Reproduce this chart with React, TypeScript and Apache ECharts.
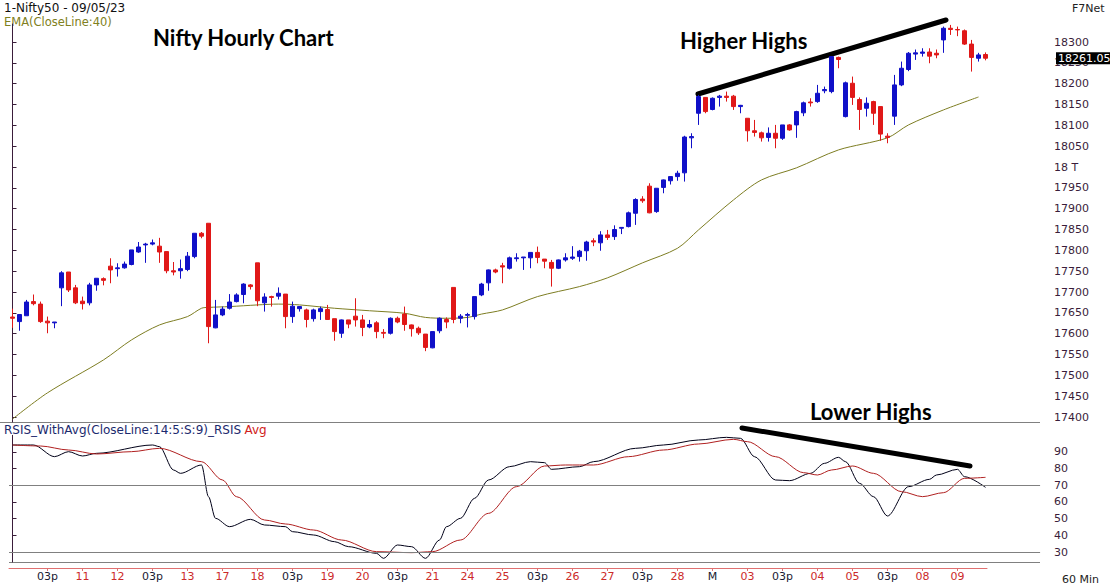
import React, { useEffect, useRef } from 'react';
import * as echarts from 'echarts';

// ---- Data ----
const opens = [17640,17629,17643,17677,17671,17630,17626, 17710,17748,17710,17678,17674,17717,17732, 17762,17756,17758,17766,17796,17813,17815, 17810,17797,17751,17751,17754,17785,17841, 17865,17614,17645,17661,17677,17694,17717, 17770,17674,17689,17690,17695,17641,17660, 17657,17636,17653,17658,17636,17601,17633, 17642,17633,17616,17626,17603,17601,17637, 17647,17621,17613,17599,17566,17607,17634, 17711,17637,17644,17641,17693,17722,17753, 17763,17757,17780,17782,17782,17795,17779, 17771,17757,17777,17781,17785,17799,17823, 17818,17837,17833,17853,17857,17889,17923, 17954,17893,17951,17967,17977,17986,18070, 18129,18167,18138,18167,18170,18170,18145, 18117,18087,18082,18071,18081,18069,18101, 18101,18130,18156,18157,18183,18181,18263, 18121,18201,18162,18141,18157,18145,18074, 18122,18197,18234,18271,18273,18276,18273, 18305,18333,18330,18327,18295,18261,18270];
const highs = [17660,17646,17681,17694,17677,17641,17628, 17750,17748,17717,17689,17722,17733,17735, 17781,17769,17773,17801,17820,17818,17826, 17830,17797,17772,17778,17796,17841,17844, 17865,17681,17665,17695,17697,17721,17719, 17770,17697,17691,17711,17695,17677,17666, 17660,17660,17665,17669,17636,17634,17633, 17685,17645,17633,17630,17611,17639,17641, 17665,17622,17617,17599,17605,17639,17639, 17711,17647,17650,17689,17722,17754,17756, 17770,17785,17793,17784,17795,17809,17779, 17777,17778,17793,17810,17801,17823,17829, 17846,17849,17860,17855,17893,17925,17930, 17961,17949,17970,17978,17991,18075,18081, 18173,18167,18167,18173,18181,18173,18149, 18117,18113,18085,18095,18101,18101,18103, 18135,18157,18165,18197,18193,18265,18265, 18205,18217,18167,18167,18159,18145,18081, 18221,18253,18276,18282,18285,18285,18282, 18337,18341,18337,18330,18305,18274,18275];
const lows = [17614,17607,17643,17668,17626,17601,17613, 17666,17700,17671,17658,17668,17703,17716, 17721,17737,17756,17764,17794,17770,17812, 17770,17745,17740,17732,17750,17781,17829, 17577,17613,17642,17658,17675,17673,17706, 17666,17653,17665,17682,17613,17626,17653, 17615,17629,17633,17633,17583,17590,17613, 17617,17594,17613,17589,17589,17598,17625, 17607,17593,17597,17558,17565,17601,17613, 17625,17625,17615,17634,17690,17703,17745, 17721,17754,17773,17753,17757,17769,17757, 17713,17755,17773,17777,17773,17775,17810, 17799,17825,17825,17839,17855,17861,17914, 17889,17890,17937,17958,17967,17965,18045, 18101,18129,18136,18145,18157,18137,18129, 18061,18073,18061,18061,18045,18065,18087, 18070,18122,18145,18154,18177,18177,18237, 18119,18149,18089,18121,18101,18063,18057, 18101,18194,18230,18257,18265,18249,18261, 18274,18317,18314,18293,18229,18253,18256];
const closes = [17637,17646,17676,17672,17629,17626,17628, 17746,17705,17674,17672,17717,17733,17728, 17753,17758,17767,17801,17808,17815,17818, 17796,17751,17748,17756,17786,17841,17834, 17617,17645,17659,17676,17693,17719,17713, 17679,17688,17687,17697,17641,17666,17665, 17634,17657,17660,17634,17605,17633,17623, 17633,17615,17622,17605,17601,17637,17628, 17622,17612,17602,17567,17605,17637,17628, 17634,17642,17646,17689,17719,17753,17748, 17760,17782,17782,17784,17795,17783,17774, 17757,17777,17782,17784,17798,17820,17820, 17837,17831,17850,17855,17890,17922,17919, 17890,17949,17969,17977,17985,18072,18073, 18169,18133,18165,18170,18167,18145,18148, 18087,18083,18070,18081,18069,18101,18089, 18133,18154,18154,18177,18186,18265,18258, 18202,18167,18138,18153,18129,18079,18071, 18197,18237,18273,18274,18276,18266,18269, 18333,18330,18329,18295,18263,18269,18261.05];

// EMA(40) line, [candle index, value]
const emaPoints = [[0,17395],[5,17458],[13,17537],[17,17585],[21,17621],[25,17641],[27,17661],[28,17663],[31,17665],[35,17669],[38,17671],[41,17669],[46,17661],[51,17655],[56,17649],[59,17639],[62,17637],[65,17639],[67,17647],[70,17657],[75,17689],[81,17713],[85,17734],[90,17770],[95,17805],[98,17849],[103,17921],[107,17969],[112,17998],[118,18041],[125,18070],[128,18101],[133,18137],[138,18168]];

// RSIS line and its average, [candle index, value]
const rsiPoints = [[0,94.2],[3,94.2],[6,87.2],[8,90.2],[10,87.6],[12,89.2],[20,94.2],[21,93.2],[23,79.2],[24,77.2],[27,82.2],[28,63.2],[29,50.2],[31,45.2],[34,49.6],[36,46.2],[39,45.2],[40,42.2],[43,40.2],[46,36.2],[48,33.2],[52,29.2],[53,26.2],[55,34.2],[57,33.2],[59,26.2],[61,37.2],[62,45.2],[64,50.2],[66,62.2],[68,73.2],[71,81.2],[74,84.2],[76,83.6],[77,79.6],[81,81.2],[83,84.2],[89,92.2],[93,94.2],[98,97.2],[102,98.8],[104,98.2],[106,87.2],[109,73.2],[111,72.8],[114,77.2],[116,83.2],[118,86.8],[119,84.2],[121,71.2],[123,63.2],[125,51.6],[128,69.2],[131,73.6],[132,76.2],[135,79.6],[136,75.2],[139,68.8]];
const rsiAvgPoints = [[0,94.2],[4,93.6],[8,91.2],[12,88.8],[17,90.2],[21,92.2],[27,84.2],[30,73.2],[32,63.2],[36,49.2],[39,46.8],[43,43.2],[47,37.2],[52,30.2],[57,29.6],[60,30.2],[64,37.2],[68,53.2],[72,69.2],[76,81.6],[79,82.2],[83,82.2],[88,87.2],[93,91.2],[98,94.8],[103,97.6],[105,96.2],[109,87.2],[113,77.6],[115,76.2],[117,79.2],[120,81.6],[123,77.2],[127,66.2],[130,63.2],[133,65.6],[136,74.2],[139,74.8]];

const xLabelIdx = [5,10,15,20,25,30,35,40,45,50,55,60,65,70,75,80,85,90,95,100,105,110,115,120,125,130,135];
const xLabels = ['03p','11','12','03p','13','17','18','03p','19','20','03p','21','24','25','03p','26','27','03p','28','M','03','03p','04','05','03p','08','09'];
const priceTicks = [17400,17450,17500,17550,17600,17650,17700,17750,17800,17850,17900,17950,18000,18050,18100,18150,18200,18250,18300];
const rsiTicks = [30,40,50,60,70,80,90];
const rsiLevels = [70, 30];
const lastPrice = 18261.05;

const FONT = 'DejaVu Sans, Verdana, sans-serif';
const AXIS_COLOR = '#3a1d3a';
const UP = '#1010c8';
const DOWN = '#e01818';
const BOLD = 'bold 22px Lato, sans-serif';

export default function App() {
  const ref = useRef<HTMLDivElement>(null);
  useEffect(() => {
    const chart = echarts.init(ref.current!, undefined, { renderer: 'svg' });
    const candleData = opens.map((o, i) => [i, o, closes[i], lows[i], highs[i]]);
    const option: any = {
      animation: false,
      backgroundColor: '#ffffff',
      textStyle: { fontFamily: FONT },
      grid: [
        { left: 9, top: 24, width: 1043, height: 398 },
        { left: 9, top: 435.333, width: 1043, height: 126.667 },
        { left: 9, top: 567, width: 978, height: 1 },
      ],
      xAxis: [
        { type: 'value', gridIndex: 0, min: -0.5, max: 148.5, show: false },
        { type: 'value', gridIndex: 1, min: -0.5, max: 148.5, show: false },
        {
          type: 'value', gridIndex: 2, min: -0.5, max: -0.5 + 978 / 7, position: 'bottom',
          axisLine: { show: true, lineStyle: { color: '#e07070', width: 1 } },
          axisTick: { show: true, customValues: xLabelIdx, length: 3, lineStyle: { color: '#e07070' } },
          splitLine: { show: false },
          axisLabel: {
            show: true, customValues: xLabelIdx, margin: 3, fontSize: 11, fontFamily: FONT,
            formatter: (v: number) => {
              const t = xLabels[xLabelIdx.indexOf(Math.round(v))] || '';
              return (t === '03p' || t === 'M') ? `{k|${t}}` : `{r|${t}}`;
            },
            rich: { k: { color: '#1a1a33', fontSize: 11, fontFamily: FONT }, r: { color: '#cc2a2a', fontSize: 11, fontFamily: FONT } },
          },
        },
      ],
      yAxis: [
        {
          type: 'value', gridIndex: 0, position: 'right', min: 17388, max: 18343.2,
          axisLine: { show: true, lineStyle: { color: AXIS_COLOR, width: 1 } },
          axisTick: { show: true, customValues: priceTicks, length: 4, lineStyle: { color: AXIS_COLOR } },
          splitLine: { show: false },
          axisLabel: {
            customValues: priceTicks, margin: 2, fontSize: 11, color: AXIS_COLOR, fontFamily: FONT,
            formatter: (v: number) => (v === 18000 ? '18 T' : String(v)),
          },
        },
        {
          type: 'value', gridIndex: 1, position: 'right', min: 24, max: 100,
          axisLine: { show: true, lineStyle: { color: AXIS_COLOR, width: 1 } },
          axisTick: { show: true, customValues: rsiTicks, length: 4, lineStyle: { color: AXIS_COLOR } },
          splitLine: { show: false },
          axisLabel: { customValues: rsiTicks, margin: 2, fontSize: 11, color: AXIS_COLOR, fontFamily: FONT },
        },
        { type: 'value', gridIndex: 2, min: 0, max: 1, show: false },
      ],
      series: [
        {
          type: 'candlestick', xAxisIndex: 0, yAxisIndex: 0, data: candleData,
          encode: { x: 0, y: [1, 2, 3, 4] },
          barWidth: 4, clip: false, z: 3,
          itemStyle: { color: UP, color0: DOWN, borderColor: UP, borderColor0: DOWN, borderWidth: 1 },
          markLine: {
            silent: true, symbol: 'none', z: 10,
            lineStyle: { color: 'rgba(0,0,0,0)', width: 1, type: 'solid' },
            label: {
              show: true, position: 'end', distance: 4, formatter: lastPrice.toFixed(2),
              backgroundColor: '#000000', color: '#ffffff', fontSize: 11, fontFamily: FONT, padding: [1, 2, 0, 2],
            },
            emphasis: { disabled: true },
            data: [{ yAxis: lastPrice }],
          },
        },
        {
          type: 'line', xAxisIndex: 0, yAxisIndex: 0, data: emaPoints, symbol: 'none', smooth: 0.3,
          lineStyle: { color: '#7d7d22', width: 1 }, itemStyle: { color: '#7d7d22' },
        },
        {
          type: 'line', xAxisIndex: 1, yAxisIndex: 1, data: rsiPoints, symbol: 'none', smooth: 0.3, smoothMonotone: 'x',
          lineStyle: { color: '#000018', width: 1 }, itemStyle: { color: '#000018' },
          markLine: {
            silent: true, symbol: 'none', label: { show: false },
            lineStyle: { color: '#808080', width: 1, type: 'solid' },
            data: rsiLevels.map((v) => [{ coord: [-0.5, v] }, { coord: [146.8, v] }]),
          },
        },
        {
          type: 'line', xAxisIndex: 1, yAxisIndex: 1, data: rsiAvgPoints, symbol: 'none', smooth: 0.3, smoothMonotone: 'x',
          lineStyle: { color: '#b02020', width: 1 }, itemStyle: { color: '#b02020' },
        },
      ],
      graphic: [
        { type: 'line', shape: { x1: 0, y1: 422.5, x2: 1040, y2: 422.5 }, style: { stroke: '#808080', lineWidth: 1 } },
        { type: 'line', shape: { x1: 9, y1: 562.5, x2: 1040, y2: 562.5 }, style: { stroke: '#808080', lineWidth: 1 } },
        { type: 'text', x: 4, y: 8, style: { text: '1-Nifty50 - 09/05/23', font: `12px ${FONT}`, fill: '#111', verticalAlign: 'middle' } },
        { type: 'text', x: 4, y: 22, style: { text: 'EMA(CloseLine:40)', font: `11.5px ${FONT}`, fill: '#808020', verticalAlign: 'middle' } },
        { type: 'text', x: 1072, y: 8, style: { text: 'F7Net', font: `11px ${FONT}`, fill: '#222', verticalAlign: 'middle' } },
        { type: 'text', x: 1062, y: 579, style: { text: '60 Min', font: `11px ${FONT}`, fill: '#222', verticalAlign: 'middle' } },
        {
          type: 'text', x: 4, y: 430,
          style: {
            text: '{a|RSIS_WithAvg(CloseLine:14:5:S:9)_RSIS} {b|Avg}', verticalAlign: 'middle',
            rich: { a: { fill: '#1c2a6e', font: `12px ${FONT}` }, b: { fill: '#d02020', font: `12px ${FONT}` } },
          },
        },
        { type: 'text', x: 153, y: 37, style: { text: 'Nifty Hourly Chart', font: BOLD, fill: '#000', verticalAlign: 'middle' } },
        { type: 'text', x: 680, y: 40, style: { text: 'Higher Highs', font: BOLD, fill: '#000', verticalAlign: 'middle' } },
        { type: 'text', x: 810, y: 411, style: { text: 'Lower Highs', font: BOLD, fill: '#000', verticalAlign: 'middle' } },
        { type: 'line', shape: { x1: 698, y1: 94, x2: 946, y2: 20 }, style: { stroke: '#000', lineWidth: 5, lineCap: 'round' } },
        { type: 'line', shape: { x1: 742, y1: 428, x2: 970, y2: 466 }, style: { stroke: '#000', lineWidth: 5, lineCap: 'round' } },
      ],
    };
    chart.setOption(option);
    return () => chart.dispose();
  }, []);
  return <div ref={ref} style={{ position: 'fixed', left: 0, top: 0, width: 1110, height: 587, background: '#fff' }} />;
}
